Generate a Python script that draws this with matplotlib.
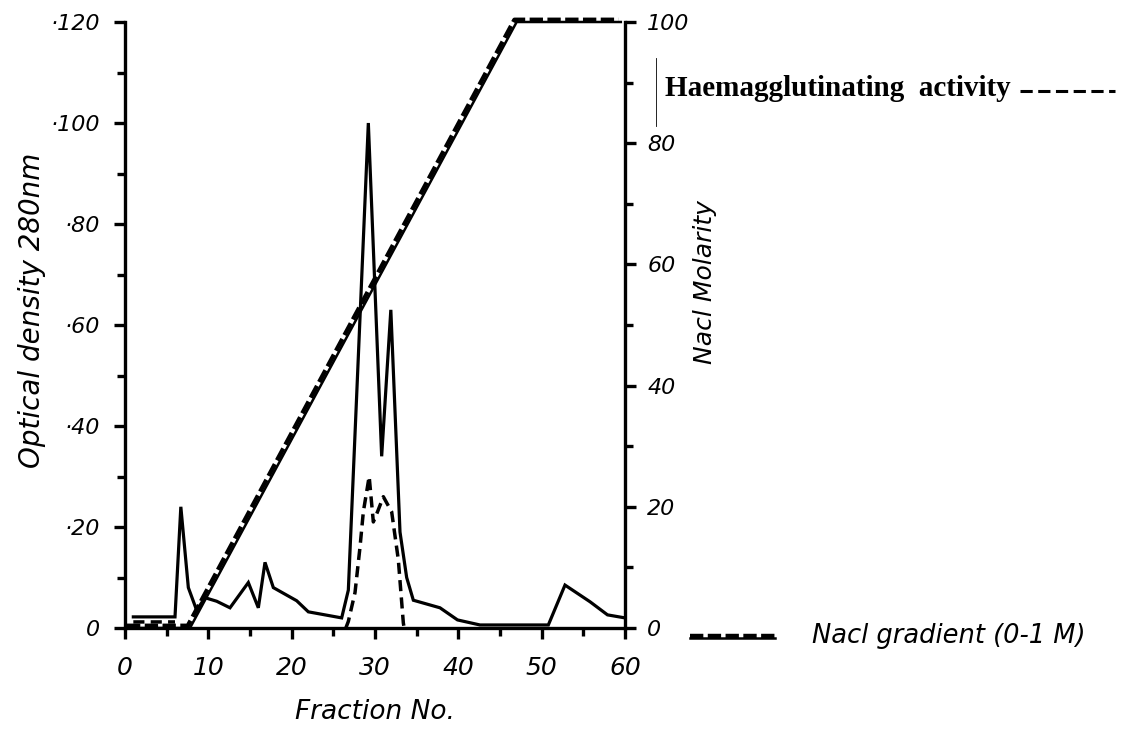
import numpy as np
import matplotlib
matplotlib.use("Agg")
import matplotlib.pyplot as plt
import matplotlib.transforms as mtransforms
from matplotlib.lines import Line2D

# ---- data ----
frac_od = [1, 6, 6.7, 7.6, 8.6, 9.6, 11, 12.6, 14.8, 16, 16.8, 17.8, 20.6, 22, 24, 26,
           26.8, 29.2, 30.8, 31.9, 33, 33.8, 34.6, 37.8, 39.9, 42.6, 50.8, 52.8, 55.8, 57.9, 60]
od = [2.2, 2.2, 24, 8, 3.5, 6, 5.3, 4, 9, 4, 13, 8, 5.4, 3.2, 2.6, 2,
      7.5, 100, 34, 63, 19, 10, 5.5, 4, 1.6, 0.6, 0.6, 8.5, 5.2, 2.6, 2]

frac_haem = [1, 6, np.nan, 26.5, 26.8, 27.6, 28.2, 28.6, 29.3, 29.8, 30.3, 31.0, 32.0, 32.8, 33.4, 33.5]
haem = [1.2, 1.2, np.nan, 0, 1.3, 7, 16, 23, 30, 21, 23, 26, 23, 13.5, 1, 0]

frac_grad = [0.5, 7.8, 47, 59.5]
nacl = [0, 0, 100, 100]

left_ticks = [0, 20, 40, 60, 80, 100, 120]
left_labels = ['0', '·20', '·40', '·60', '·80', '·100', '·120']
right_ticks = [0, 20, 40, 60, 80, 100]
right_labels = ['0', '20', '40', '60', '80', '100']
x_ticks = [0, 10, 20, 30, 40, 50, 60]
x_labels = ['0', '10', '20', '30', '40', '50', '60']

# ---- figure ----
W, H = 1131, 731
fig = plt.figure(figsize=(W / 100, H / 100), dpi=100)
ax = fig.add_axes([125 / W, 1 - 628 / H, 500 / W, 606 / H])
ax2 = ax.twinx()

hand = dict(family='DejaVu Sans', style='oblique', size=16)
handx = dict(family='DejaVu Sans', style='oblique', size=18)
lab = dict(family='DejaVu Sans', style='oblique', size=19)

ax.set_xlim(0, 60)
ax.set_ylim(0, 120)
ax2.set_ylim(0, 100)

for a in (ax, ax2):
    for s in a.spines.values():
        s.set_linewidth(2.4)
    a.spines['top'].set_visible(False)
    a.set_facecolor('none')

ax.spines['right'].set_visible(False)
ax2.spines['left'].set_visible(False)
ax2.spines['bottom'].set_visible(False)

# OD line
ax.plot(frac_od, od, color='black', lw=2.3, solid_joinstyle='miter', zorder=3)
# Haemagglutinating activity
ax.plot(frac_haem, haem, color='black', lw=2.5, dashes=(3.2, 1.8), zorder=3)

# NaCl gradient: solid thin line + thick dashed line slightly offset
ax2.plot(frac_grad, nacl, color='black', lw=1.8, zorder=4, clip_on=False)
off = mtransforms.offset_copy(ax2.transData, fig=fig, x=-2.2, y=2.2, units='dots')
ax2.plot(frac_grad, nacl, color='black', lw=3.2, dashes=(3.0, 1.0), transform=off,
         zorder=4, clip_on=False)

# ticks
ax.set_xticks(x_ticks)
ax.set_xticklabels(x_labels, **handx)
ax.set_xticks(np.arange(5, 60, 10), minor=True)
ax.set_yticks(left_ticks)
ax.set_yticklabels(left_labels, **hand)
ax.set_yticks(np.arange(10, 120, 20), minor=True)
ax.tick_params(axis='both', which='major', direction='out', length=8, width=2.4)
ax.tick_params(axis='both', which='minor', direction='out', length=6, width=2.4)
ax.tick_params(axis='x', which='major', pad=12)
ax.tick_params(axis='y', which='major', pad=10)

ax2.set_yticks(right_ticks)
ax2.set_yticklabels(right_labels, **hand)
ax2.set_yticks(np.arange(10, 100, 20), minor=True)
ax2.tick_params(axis='y', which='major', direction='out', length=8, width=2.4, pad=8)
ax2.tick_params(axis='y', which='minor', direction='out', length=6, width=2.4)

# axis labels
fig.text(375 / W, 1 - 712 / H, 'Fraction No.', ha='center', va='center', **lab)
fig.text(32 / W, 1 - 310 / H, 'Optical density 280nm', rotation=90, ha='center',
         va='center', family='DejaVu Sans', style='oblique', size=20)
fig.text(705 / W, 1 - 282 / H, 'Nacl Molarity', rotation=90, ha='center', va='center',
         family='DejaVu Sans', style='oblique', size=18)

# legends
fig.text(665 / W, 1 - 89 / H, 'Haemagglutinating  activity', ha='left', va='center',
         family='Liberation Serif', weight='bold', size=21)
fig.add_artist(Line2D([1020 / W, 1115 / W], [1 - 91 / H, 1 - 91 / H], color='black',
                      lw=2.2, dashes=(4.0, 1.8)))
fig.add_artist(Line2D([656 / W, 656 / W], [1 - 58 / H, 1 - 126 / H], color='black', lw=0.6))

fig.add_artist(Line2D([690 / W, 775 / W], [1 - 638 / H, 1 - 638 / H], color='black', lw=1.8))
fig.add_artist(Line2D([690 / W, 775 / W], [1 - 635.5 / H, 1 - 635.5 / H], color='black',
                      lw=3.2, dashes=(3.0, 1.0)))
fig.text(812 / W, 1 - 636 / H, 'Nacl gradient (0-1 M)', ha='left', va='center',
         family='DejaVu Sans', style='oblique', size=18.5)

fig.savefig('out.png', dpi=100, facecolor='white')
